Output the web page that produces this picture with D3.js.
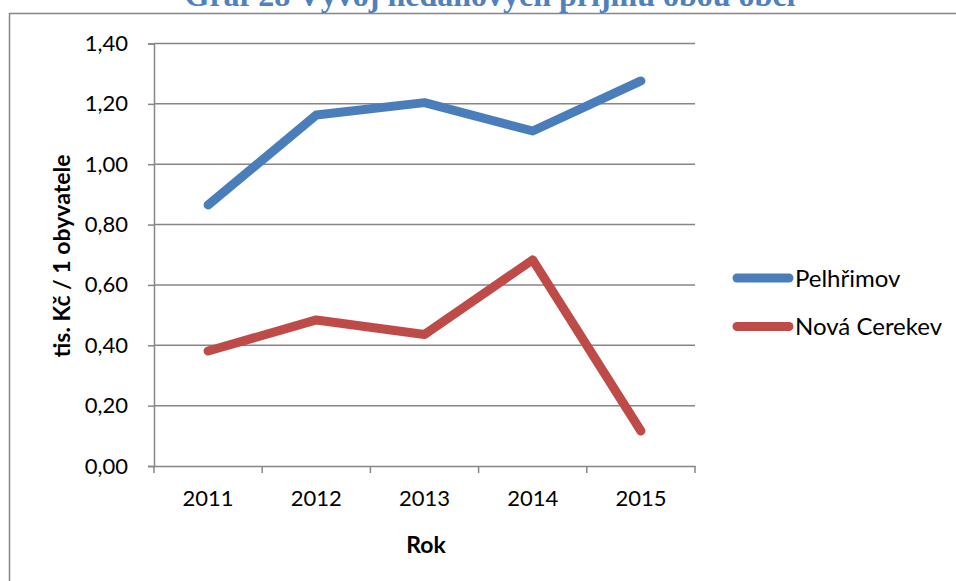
<!DOCTYPE html>
<html>

<head>
    <meta charset="utf-8">
    <title>Graf 28</title>
    <style>
      body {
        margin: 0;
        background: #fff;
      }
      .y-axis path, .x-axis path {
        stroke: #868686;
      }
      .tick line {
        stroke: #868686;
      }
      .tick text {
        font-family: Lato, "DejaVu Sans", sans-serif;
        font-size: 22px;
        fill: #000;
      }
    </style>
</head>

<body>
    <script src="https://d3js.org/d3.v7.min.js"></script>
    <script type="text/javascript">

        /*********************************
         * Data
         *********************************/

        var years = ["2011", "2012", "2013", "2014", "2015"];
        var pelhrimov = [0.865, 1.163, 1.204, 1.110, 1.276];
        var novaCerekev = [0.381, 0.484, 0.436, 0.683, 0.116];
        var yTicks = [0, 0.2, 0.4, 0.6, 0.8, 1.0, 1.2, 1.4];
        var seriesNames = ["Pelhřimov", "Nová Cerekev"];
        var seriesColors = ["#4A7EBB", "#BE4B48"];

        var series = [pelhrimov, novaCerekev];

        /*********************************
         * Scales
         *********************************/

        var plotLeft = 154, plotRight = 695, plotTop = 43.5, plotBottom = 466;

        var xScale = d3.scaleBand()
            .domain(years)
            .range([plotLeft, plotRight]);

        var yScale = d3.scaleLinear()
            .domain([0, 1.4])
            .range([plotBottom, plotTop]);

        var svg = d3.select("body")
            .append("svg")
            .attr("width", 956)
            .attr("height", 581);

        // chart frame
        svg.append("rect")
            .attr("x", 9.5)
            .attr("y", 13.5)
            .attr("width", 1000)
            .attr("height", 700)
            .attr("fill", "none")
            .attr("stroke", "#868686")
            .attr("stroke-width", 1.5);

        // title, cut at the top
        svg.append("text")
            .attr("x", 490)
            .attr("y", 6)
            .attr("text-anchor", "middle")
            .attr("font-family", "'Liberation Serif', 'Times New Roman', serif")
            .attr("font-weight", "bold")
            .attr("font-size", "32px")
            .attr("fill", "#4F81BD")
            .text("Graf 28 Vývoj nedaňových příjmů obou obcí");

        /*********************************
         * Axes
         *********************************/

        // gridlines
        svg.append("g")
            .selectAll("line")
            .data(yTicks.filter(function(d) { return d > 0; }))
            .enter()
            .append("line")
            .attr("x1", plotLeft)
            .attr("x2", plotRight)
            .attr("y1", function(d) { return yScale(d); })
            .attr("y2", function(d) { return yScale(d); })
            .attr("stroke", "#868686")
            .attr("stroke-width", 1.5);

        var yAxis = d3.axisLeft(yScale)
            .tickValues(yTicks)
            .tickSize(6)
            .tickPadding(20)
            .tickFormat(function(d) { return d3.format(".2f")(d).replace(".", ","); });

        svg.append("g")
            .attr("class", "y-axis")
            .attr("transform", "translate(" + plotLeft + ",0)")
            .call(yAxis);

        svg.selectAll(".y-axis .domain, .y-axis .tick line").attr("stroke-width", 1.5);

        var xAxis = d3.axisBottom(xScale)
            .tickSize(0)
            .tickPadding(24);

        var gx = svg.append("g")
            .attr("class", "x-axis")
            .attr("transform", "translate(0," + plotBottom + ")")
            .call(xAxis);
        gx.select(".domain").attr("stroke-width", 1.5);

        // category boundary ticks
        svg.append("g")
            .selectAll("line")
            .data(years.concat(["end"]))
            .enter()
            .append("line")
            .attr("x1", function(d, i) { return plotLeft + i * xScale.step(); })
            .attr("x2", function(d, i) { return plotLeft + i * xScale.step(); })
            .attr("y1", plotBottom)
            .attr("y2", plotBottom + 7)
            .attr("stroke", "#868686")
            .attr("stroke-width", 1.5);

        // axis titles
        svg.append("text")
            .attr("x", 426)
            .attr("y", 553)
            .attr("text-anchor", "middle")
            .attr("font-family", "Lato, sans-serif")
            .attr("font-weight", "bold")
            .attr("font-size", "23px")
            .text("Rok");

        svg.append("text")
            .attr("transform", "translate(70,256) rotate(-90)")
            .attr("text-anchor", "middle")
            .attr("font-family", "Lato, sans-serif")
            .attr("font-weight", "bold")
            .attr("font-size", "23px")
            .text("tis. Kč / 1 obyvatele");

        /*********************************
         * Lines
         *********************************/

        var line = d3.line()
            .x(function(d, i) { return xScale(years[i]) + xScale.bandwidth() / 2; })
            .y(function(d) { return yScale(d); });

        svg.selectAll(".series")
            .data(series)
            .enter()
            .append("path")
            .attr("class", "series")
            .attr("d", line)
            .attr("fill", "none")
            .attr("stroke", function(d, i) { return seriesColors[i]; })
            .attr("stroke-width", 9)
            .attr("stroke-linecap", "round")
            .attr("stroke-linejoin", "round");

        /*********************************
         * Legend
         *********************************/

        var legend = svg.selectAll(".legend")
            .data(seriesNames)
            .enter()
            .append("g")
            .attr("class", "legend")
            .attr("transform", function(d, i) { return "translate(737," + (278 + i * 48.5) + ")"; });

        legend.append("line")
            .attr("x1", 0)
            .attr("x2", 52)
            .attr("stroke", function(d, i) { return seriesColors[i]; })
            .attr("stroke-width", 9)
            .attr("stroke-linecap", "round");

        legend.append("text")
            .attr("x", 58)
            .attr("y", 8.5)
            .attr("font-family", "Lato, sans-serif")
            .attr("font-size", "24px")
            .text(function(d) { return d; });

    </script>
</body>

</html>
